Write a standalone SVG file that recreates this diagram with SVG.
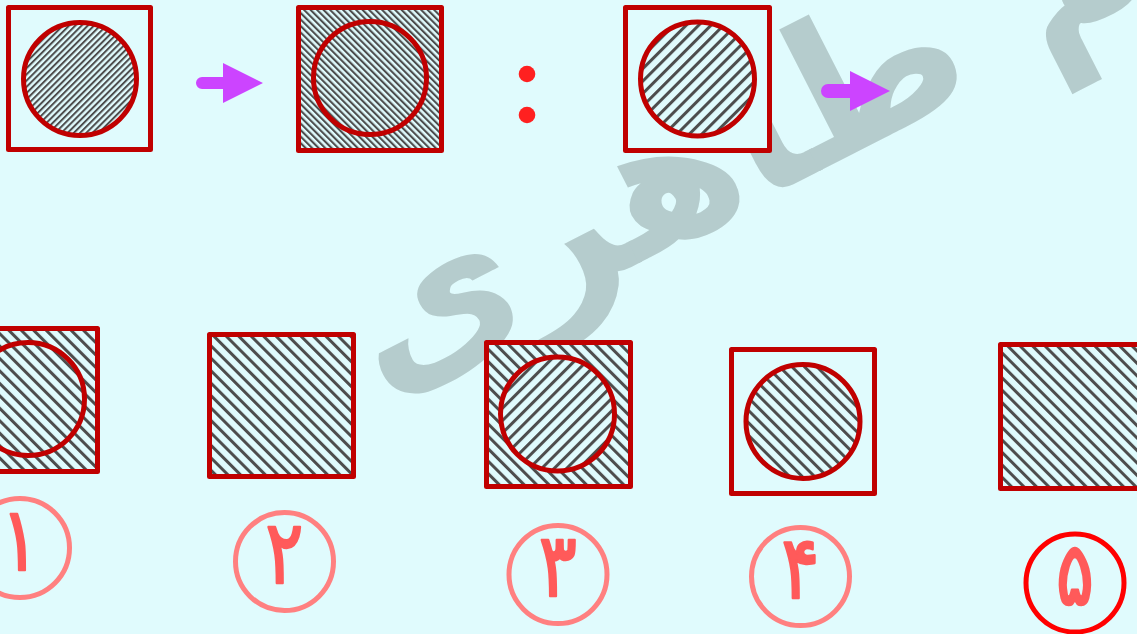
<svg xmlns="http://www.w3.org/2000/svg" width="1137" height="634" viewBox="0 0 1137 634">
<defs>
<pattern id="fineR" patternUnits="userSpaceOnUse" width="4.4" height="10" patternTransform="rotate(45)">
<rect width="4.4" height="10" fill="#e0fbfd"/><rect width="2" height="10" fill="#4d4d4d"/>
</pattern>
<pattern id="fineL" patternUnits="userSpaceOnUse" width="4.6" height="10" patternTransform="rotate(-45)">
<rect width="4.6" height="10" fill="#e0fbfd"/><rect width="2.1" height="10" fill="#4d4d4d"/>
</pattern>
<pattern id="coarseR" patternUnits="userSpaceOnUse" width="8.8" height="10" patternTransform="rotate(45)">
<rect width="8.8" height="10" fill="#e0fbfd"/><rect width="3" height="10" fill="#4d4d4d"/>
</pattern>
<pattern id="coarseL" patternUnits="userSpaceOnUse" width="8.8" height="10" patternTransform="rotate(-45)">
<rect width="8.8" height="10" fill="#e0fbfd"/><rect width="3" height="10" fill="#4d4d4d"/>
</pattern>
</defs>
<style>
.sq{stroke:#c00000;stroke-width:5;stroke-linejoin:round}
.ci{stroke:#c00000;stroke-width:5}
.plain{fill:#e0fbfd}
.num{fill:none;stroke:#ff8080;stroke-width:5}
.sel{fill:none;stroke:#ff0000;stroke-width:5}
.dig{font-family:"DejaVu Sans",sans-serif;font-weight:normal;font-size:88px;fill:#ff5a5a;stroke:#ff5a5a;stroke-width:2.5;stroke-linejoin:round;text-anchor:middle}
.arrow{fill:#cc44ff}
.wm{font-family:"DejaVu Sans",sans-serif;font-weight:bold;font-size:190px;fill:#b5cccd}
</style>
<rect width="1137" height="634" fill="#e0fbfd"/>
<g id="watermark">
<text class="wm" x="380" y="395" transform="rotate(-27 380 395)">الهام طاهری</text>
</g>
<g id="q1">
<rect class="sq plain" x="8.5" y="7.5" width="142" height="142"/>
<circle class="ci" cx="80" cy="79" r="56.5" fill="url(#fineR)"/>
</g>
<g id="q2">
<rect class="sq" x="298.5" y="7.5" width="143" height="143" fill="url(#fineL)"/>
<circle class="ci" cx="370" cy="78" r="56.5" fill="url(#fineL)"/>
</g>
<g id="q3">
<rect class="sq plain" x="625.5" y="7.5" width="144" height="143"/>
<circle class="ci" cx="697.5" cy="79" r="57" fill="url(#coarseR)"/>
</g>
<g id="colon">
<circle cx="527" cy="74" r="8.3" fill="#ff2020"/>
<circle cx="527" cy="115" r="8.3" fill="#ff2020"/>
</g>
<g id="connectors">
<path class="arrow" d="M202 77 H223 V63 L263 83 L223 103 V89 H202 A6 6 0 0 1 202 77 Z"/>
<path class="arrow" d="M828 84 H850 V71 L890 91 L850 111 V98 H828 A7 7 0 0 1 828 84 Z"/>
</g>
<g id="opt1">
<rect class="sq" x="-45" y="328.5" width="142.5" height="143" fill="url(#coarseL)"/>
<circle class="ci" cx="28" cy="399" r="56.5" fill="url(#coarseL)"/>
</g>
<g id="opt2">
<rect class="sq" x="209.5" y="334.5" width="144" height="142" fill="url(#coarseL)"/>
</g>
<g id="opt3">
<rect class="sq" x="486.5" y="342.5" width="144" height="144" fill="url(#coarseL)"/>
<circle class="ci" cx="557.5" cy="414" r="57" fill="url(#coarseR)"/>
</g>
<g id="opt4">
<rect class="sq plain" x="731.5" y="349.5" width="143" height="144"/>
<circle class="ci" cx="803" cy="421.5" r="57" fill="url(#coarseL)"/>
</g>
<g id="opt5">
<rect class="sq" x="1000.5" y="344.5" width="144" height="144" fill="url(#coarseL)"/>
</g>
<g id="n1"><circle class="num" cx="20" cy="548" r="49.5"/><text class="dig" transform="translate(20 570) scale(0.8 1)">۱</text></g>
<g id="n2"><circle class="num" cx="284.5" cy="561.5" r="49"/><text class="dig" transform="translate(284.5 583) scale(0.8 1)">۲</text></g>
<g id="n3"><circle class="num" cx="558" cy="574.5" r="49"/><text class="dig" transform="translate(558 596) scale(0.8 1)">۳</text></g>
<g id="n4"><circle class="num" cx="800.5" cy="576.5" r="49"/><text class="dig" transform="translate(800.5 598) scale(0.8 1)">۴</text></g>
<g id="n5"><circle class="sel" cx="1075" cy="583" r="49"/><text class="dig" transform="translate(1075 605) scale(0.8 1)">۵</text></g>
</svg>
